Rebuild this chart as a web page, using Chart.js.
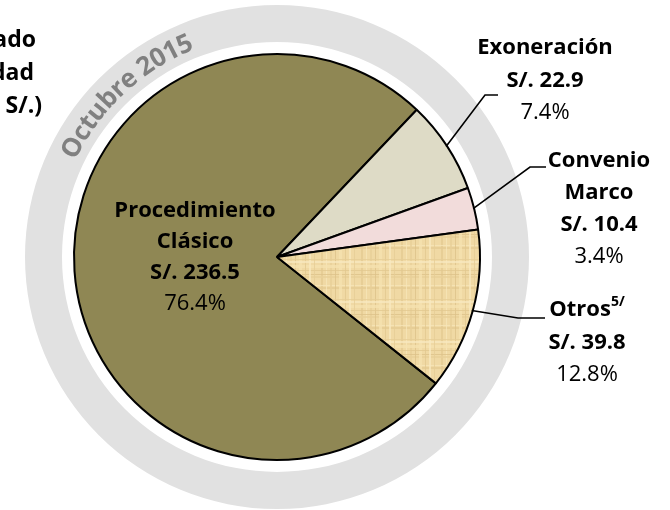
<!DOCTYPE html>
<html>
<head>
<meta charset="utf-8">
<script src="https://cdn.jsdelivr.net/npm/chart.js@4.4.0/dist/chart.umd.min.js"></script>
<style>
    html, body { margin: 0; padding: 0; background: #fff; }
    #wrap { width: 670px; height: 510px; position: relative; }
</style>
</head>
<body>
<div id="wrap"><canvas id="modalidadChart" width="670" height="510"></canvas></div>
<script>
// Datos (millones de S/.)
const categories = ['Procedimiento\nClásico', 'Exoneración', 'Convenio\nMarco', 'Otros'];
const amounts = [236.5, 22.9, 10.4, 39.8];
const shares = ['76.4%', '7.4%', '3.4%', '12.8%'];
const notes = ['', '', '', '5/'];
const titleLines = ['Monto Adjudicado', 'por Modalidad', '(Millones de S/.)'];
const ringText = 'Octubre 2015';

const FONT = '"Open Sans", "Liberation Sans", sans-serif';

// posiciones de las etiquetas (estilo)
const labelLayout = [
    { x: 195, y: 211, gap: 31 },
    { x: 545, y: 48, gap: 32.5, elbow: [485, 95], end: 498 },
    { x: 599, y: 161, gap: 32, elbow: [530, 167], end: 546 },
    { x: 587, y: 310, gap: 32.5, elbow: [518, 318], end: 545 }
];

// textura tipo papiro para "Otros"
function makePaperPattern() {
    const c = document.createElement('canvas');
    c.width = 40; c.height = 40;
    const g = c.getContext('2d');
    g.fillStyle = '#f0d9a4';
    g.fillRect(0, 0, 40, 40);
    const lines = [[1, 2, '#e4ca92'], [6, 1, '#f7e6ba'], [10, 2, '#e8cf98'], [15, 1, '#dcc088'],
                   [19, 3, '#f5e1b0'], [25, 1, '#e2c78f'], [29, 2, '#f8e8c0'], [34, 1, '#e6cc95']];
    g.globalAlpha = 0.75;
    lines.forEach(([p, w, col], k) => {
        g.fillStyle = col;
        g.fillRect(p, 0, w, 40);
        g.fillRect(0, (p * 7 + k * 3) % 40, 40, w);
    });
    g.globalAlpha = 1;
    return document.getElementById('modalidadChart').getContext('2d').createPattern(c, 'repeat');
}

const ringPlugin = {
    id: 'ringPlugin',
    beforeDatasetsDraw(chart) {
        const arc = chart.getDatasetMeta(0).data[0];
        const { x, y } = arc.getProps(['x', 'y'], true);
        const ctx = chart.ctx;
        ctx.save();
        ctx.beginPath();
        ctx.arc(x, y, 252, 0, Math.PI * 2);
        ctx.arc(x, y, 215, 0, Math.PI * 2, true);
        ctx.fillStyle = '#e1e1e1';
        ctx.fill('evenodd');

        // texto curvo
        ctx.font = 'bold 26px ' + FONT;
        ctx.fillStyle = '#808080';
        ctx.textAlign = 'center';
        ctx.textBaseline = 'middle';
        const r = 231;
        const total = ctx.measureText(ringText).width;
        let a = (-133 * Math.PI / 180) - total / 2 / r;
        for (const ch of ringText) {
            const w = ctx.measureText(ch).width;
            const mid = a + w / 2 / r;
            ctx.save();
            ctx.translate(x + r * Math.cos(mid), y + r * Math.sin(mid));
            ctx.rotate(mid + Math.PI / 2);
            ctx.fillText(ch, 0, 0);
            ctx.restore();
            a += w / r;
        }
        ctx.restore();
    }
};

const labelPlugin = {
    id: 'labelPlugin',
    afterDatasetsDraw(chart) {
        const ctx = chart.ctx;
        const meta = chart.getDatasetMeta(0);
        ctx.save();
        ctx.textBaseline = 'middle';
        ctx.fillStyle = '#000';

        // titulo recortado a la izquierda
        ctx.font = 'bold 23px ' + FONT;
        ctx.textAlign = 'right';
        const titleX = [36, 34, 42];
        titleLines.forEach((t, i) => ctx.fillText(t, titleX[i], 40 + i * 33));

        meta.data.forEach((arc, i) => {
            const lay = labelLayout[i];
            const p = arc.getProps(['x', 'y', 'startAngle', 'endAngle', 'outerRadius'], true);
            if (lay.elbow) {
                const mid = (p.startAngle + p.endAngle) / 2;
                ctx.beginPath();
                ctx.moveTo(p.x + Math.cos(mid) * (p.outerRadius - 1), p.y + Math.sin(mid) * (p.outerRadius - 1));
                ctx.lineTo(lay.elbow[0], lay.elbow[1]);
                ctx.lineTo(lay.end, lay.elbow[1]);
                ctx.strokeStyle = '#000';
                ctx.lineWidth = 1.6;
                ctx.stroke();
            }
            const lines = categories[i].split('\n');
            const texts = lines.map(l => ({ t: l, bold: true }));
            texts.push({ t: 'S/. ' + amounts[i].toFixed(1), bold: true });
            texts.push({ t: shares[i], bold: false });
            ctx.textAlign = 'center';
            texts.forEach((o, k) => {
                ctx.font = (o.bold ? 'bold ' : '') + '22px ' + FONT;
                const ty = lay.y + k * lay.gap;
                if (k === 0 && notes[i]) {
                    const w = ctx.measureText(o.t).width;
                    ctx.font = 'bold 14px ' + FONT;
                    const sw = ctx.measureText(notes[i]).width;
                    const left = lay.x - (w + sw) / 2;
                    ctx.textAlign = 'left';
                    ctx.fillText(notes[i], left + w, ty - 8);
                    ctx.font = 'bold 22px ' + FONT;
                    ctx.fillText(o.t, left, ty);
                    ctx.textAlign = 'center';
                } else {
                    ctx.fillText(o.t, lay.x, ty);
                }
            });
        });
        ctx.restore();
    }
};

const modalidadChart = new Chart(document.getElementById('modalidadChart'), {
    type: 'pie',
    data: {
        labels: categories,
        datasets: [{
            data: amounts,
            backgroundColor: ['#8f8754', '#dedbc6', '#f2dcdb', makePaperPattern()],
            borderColor: '#000',
            borderWidth: 2,
            hoverOffset: 0
        }]
    },
    options: {
        responsive: false,
        animation: false,
        rotation: 128.5,
        radius: 203,
        layout: { padding: { left: 0, right: 116, top: 4, bottom: 0 } },
        plugins: {
            legend: { display: false },
            tooltip: { enabled: false }
        },
        events: []
    },
    plugins: [ringPlugin, labelPlugin]
});
</script>
</body>
</html>
